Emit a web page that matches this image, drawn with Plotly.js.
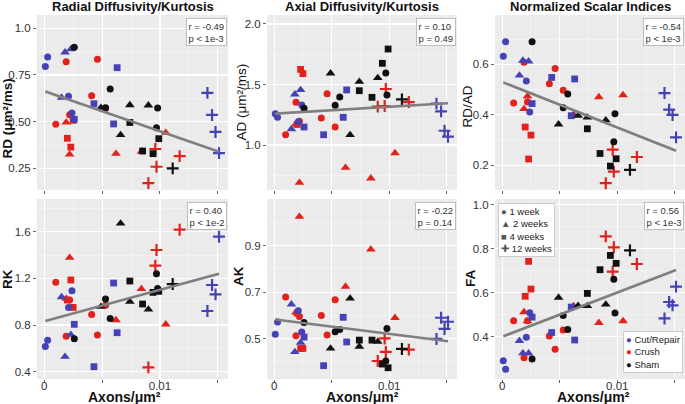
<!DOCTYPE html>
<html><head><meta charset="utf-8">
<script src="https://cdn.plot.ly/plotly-3.0.1.min.js"></script>
<style>html,body{margin:0;padding:0;background:#fff}#chart{width:685px;height:404px}</style>
</head><body><div id="chart"></div>
<script>
// ---------- DATA ----------
const timeLabels = ['1 week', '2 weeks', '4 weeks', '12 weeks'];
const groupNames = ['Cut/Repair', 'Crush', 'Sham'];

// Cut/Repair
const timeCut  = ['1 week','1 week','1 week','1 week','2 weeks','2 weeks','2 weeks','4 weeks','4 weeks','4 weeks','4 weeks','12 weeks','12 weeks','12 weeks','12 weeks'];
const axonsCut = [0.0001, 0.0003, 0.0021, 0.0024, 0.0015, 0.0018, 0.0023, 0.0026, 0.0043, 0.0060, 0.0063, 0.0141, 0.0145, 0.0148, 0.0151];
const rdCut    = [0.795, 0.846, 0.636, 0.546, 0.629, 0.871, 0.888, 0.513, 0.596, 0.488, 0.789, 0.654, 0.536, 0.445, 0.332];
const adCut    = [1.259, 1.229, 1.193, 1.331, 1.132, 1.419, 1.455, 1.149, 1.085, 1.229, 1.455, 1.342, 1.278, 1.118, 1.069];
const rdadCut  = [0.632, 0.690, 0.534, 0.411, 0.556, 0.615, 0.612, 0.444, 0.548, 0.396, 0.542, 0.486, 0.420, 0.399, 0.310];
const rkCut    = [0.617, 0.669, 0.951, 1.094, 1.040, 0.529, 0.717, 0.806, 0.443, 1.160, 0.734, 0.920, 1.143, 1.063, 1.557];
const akCut    = [0.519, 0.572, 0.620, 0.529, 0.648, 0.443, 0.483, 0.507, 0.384, 0.592, 0.486, 0.499, 0.590, 0.542, 0.573];
const faCut    = [0.290, 0.252, 0.397, 0.509, 0.381, 0.325, 0.324, 0.489, 0.419, 0.535, 0.385, 0.483, 0.558, 0.543, 0.628];

// Crush
const timeCrush  = ['1 week','1 week','1 week','1 week','1 week','1 week','2 weeks','2 weeks','2 weeks','2 weeks','2 weeks','4 weeks','4 weeks','4 weeks','12 weeks','12 weeks','12 weeks','12 weeks'];
const axonsCrush = [0.0010, 0.0019, 0.0022, 0.0041, 0.0046, 0.0053, 0.0019, 0.0022, 0.0062, 0.0084, 0.0105, 0.0020, 0.0023, 0.0025, 0.0090, 0.0096, 0.0097, 0.0117];
const rdCrush    = [0.486, 0.821, 0.537, 0.639, 0.834, 0.570, 0.496, 0.325, 0.329, 0.340, 0.441, 0.411, 0.364, 0.507, 0.171, 0.354, 0.259, 0.316];
const adCrush    = [1.085, 1.353, 1.196, 1.223, 1.424, 1.149, 1.173, 0.689, 0.813, 0.725, 0.934, 1.170, 1.625, 1.590, 1.317, 1.322, 1.463, 1.355];
const rdadCrush  = [0.446, 0.608, 0.450, 0.523, 0.584, 0.497, 0.423, 0.473, 0.401, 0.470, 0.478, 0.351, 0.224, 0.319, 0.128, 0.261, 0.174, 0.232];
const rkCrush    = [1.166, 0.703, 1.014, 0.891, 0.714, 0.969, 1.026, 1.377, 0.843, 1.109, 0.806, 1.014, 1.186, 0.951, 0.437, 1.309, 1.443, 1.617];
const akCrush    = [0.679, 0.513, 0.596, 0.600, 0.516, 0.668, 0.613, 1.025, 0.724, 0.884, 0.590, 0.610, 0.458, 0.458, 0.404, 0.501, 0.443, 0.453];
const faCrush    = [0.473, 0.304, 0.473, 0.403, 0.343, 0.430, 0.512, 0.471, 0.540, 0.463, 0.471, 0.584, 0.743, 0.617, 0.857, 0.696, 0.807, 0.731];

// Sham
const timeSham  = ['1 week','1 week','1 week','1 week','1 week','2 weeks','2 weeks','2 weeks','2 weeks','4 weeks','4 weeks','4 weeks','4 weeks','12 weeks'];
const axonsSham = [0.0026, 0.0053, 0.0057, 0.0097, 0.0098, 0.0049, 0.0066, 0.0074, 0.0090, 0.0074, 0.0085, 0.0094, 0.0099, 0.0111];
const rdSham    = [0.898, 0.575, 0.675, 0.468, 0.573, 0.575, 0.429, 0.589, 0.588, 0.496, 0.343, 0.329, 0.409, 0.250];
const adSham    = [1.303, 1.328, 1.397, 1.595, 1.413, 1.592, 1.083, 1.523, 1.554, 1.449, 1.394, 1.675, 1.793, 1.377];
const rdadSham  = [0.690, 0.428, 0.482, 0.293, 0.404, 0.362, 0.396, 0.389, 0.378, 0.344, 0.246, 0.196, 0.225, 0.181];
const rkSham    = [0.683, 1.023, 0.857, 1.240, 1.114, 0.957, 1.671, 1.000, 0.934, 1.177, 0.980, 1.080, 1.089, 1.151];
const akSham    = [0.570, 0.530, 0.540, 0.404, 0.544, 0.458, 0.673, 0.466, 0.487, 0.494, 0.494, 0.391, 0.375, 0.456];
const faSham    = [0.298, 0.497, 0.433, 0.661, 0.508, 0.578, 0.541, 0.540, 0.547, 0.597, 0.705, 0.770, 0.734, 0.793];

// panel texts
const panelTitles = ['Radial Diffusivity/Kurtosis', 'Axial Diffusivity/Kurtosis', 'Normalized Scalar Indices'];
const yTitles = ['RD (μm²/ms)', 'AD (μm²/ms)', 'RD/AD', 'RK', 'AK', 'FA'];
const statTexts = ['r = -0.49<br>p < 1e-3', 'r = 0.10<br>p = 0.49', 'r = -0.54<br>p < 1e-3',
                   'r = 0.40<br>p < 1e-2', 'r = -0.22<br>p = 0.14', 'r = 0.56<br>p < 1e-3'];
const xTitle = 'Axons/μm²';
const xTickVals = [0, 0.005, 0.01, 0.015];
const xTickText = ['0', '', '0.01', ''];
const yTickVals = [[0.25, 0.5, 0.75, 1.0], [1.0, 1.5, 2.0], [0.2, 0.4, 0.6],
                   [0.4, 0.8, 1.2, 1.6], [0.5, 0.7, 0.9], [0.4, 0.6, 0.8, 1.0]];
const yTickText = [['0.25', '0.50', '0.75', '1.0'], ['1.0', '1.5', '2.0'], ['0.2', '0.4', '0.6'],
                   ['0.4', '0.8', '1.2', '1.6'], ['0.5', '0.7', '0.9'], ['0.4', '0.6', '0.8', '1.0']];

// ---------- STYLE ----------
const FONT = 'Liberation Sans, Arial, sans-serif';
const colors = {'Cut/Repair': '#4343b5', 'Crush': '#e3211c', 'Sham': '#111111'};
const symbols = {'1 week': 'circle', '2 weeks': 'triangle-up', '4 weeks': 'square', '12 weeks': 'cross-thin-open'};
const sizes = {'1 week': 7, '2 weeks': 8.5, '4 weeks': 6.8, '12 weeks': 8.5};

const groups = [
  {name: 'Crush', x: axonsCrush, t: timeCrush, v: [rdCrush, adCrush, rdadCrush, rkCrush, akCrush, faCrush]},
  {name: 'Cut/Repair', x: axonsCut, t: timeCut, v: [rdCut, adCut, rdadCut, rkCut, akCut, faCut]},
  {name: 'Sham', x: axonsSham, t: timeSham, v: [rdSham, adSham, rdadSham, rkSham, akSham, faSham]}
];

const yRanges = [[0.134, 1.071], [0.628, 2.074], [0.1006, 0.796], [0.3375, 1.880], [0.3267, 1.1008], [0.2073, 1.027]];
const yMinorDtick = [0.125, 0.25, 0.1, 0.2, 0.1, 0.1];
const xDomains = [[0, 0.2948], [0.3549, 0.6481], [0.7068, 1]];
const yDomains = [[0.519, 1], [0, 0.4945]];

const traces = [];
const layout = {
  width: 685, height: 404,
  margin: {l: 37, r: 0, t: 15, b: 25},
  paper_bgcolor: '#fff', plot_bgcolor: '#ebebeb',
  showlegend: false,
  font: {family: FONT, color: '#333'},
  annotations: []
};

for (let p = 0; p < 6; p++) {
  const s = p === 0 ? '' : String(p + 1);
  const xa = 'x' + s, ya = 'y' + s;
  const row = p < 3 ? 0 : 1, col = p % 3;
  const allX = [], allY = [];
  groups.forEach(g => {
    timeLabels.forEach(tl => {
      const xs = [], ys = [];
      g.t.forEach((tt, i) => { if (tt === tl) { xs.push(g.x[i]); ys.push(g.v[p][i]); } });
      const isCross = tl === '12 weeks';
      traces.push({
        type: 'scatter', mode: 'markers', x: xs, y: ys, xaxis: xa, yaxis: ya,
        hoverinfo: 'skip', showlegend: false,
        marker: {symbol: symbols[tl], size: sizes[tl], color: colors[g.name],
                 line: {width: isCross ? 2.2 : 0, color: colors[g.name]}}
      });
    });
    g.x.forEach((xv, i) => { allX.push(xv); allY.push(g.v[p][i]); });
  });
  // least-squares line through all points of the panel
  const n = allX.length;
  const mx = allX.reduce((a, b) => a + b, 0) / n;
  const my = allY.reduce((a, b) => a + b, 0) / n;
  let sxy = 0, sxx = 0;
  for (let i = 0; i < n; i++) { sxy += (allX[i] - mx) * (allY[i] - my); sxx += (allX[i] - mx) ** 2; }
  const slope = sxy / sxx, icpt = my - slope * mx;
  const x0 = Math.min(...allX), x1 = Math.max(...allX);
  traces.push({type: 'scatter', mode: 'lines', x: [x0, x1], y: [icpt + slope * x0, icpt + slope * x1],
               xaxis: xa, yaxis: ya, hoverinfo: 'skip', showlegend: false,
               line: {color: '#7f7f7f', width: 2.6}});

  layout['xaxis' + s] = {
    domain: xDomains[col], anchor: ya, range: [-0.00062, 0.01588],
    tickmode: 'array', tickvals: xTickVals, ticktext: xTickText,
    showticklabels: row === 1, ticklabelstandoff: -7,
    ticks: 'outside', ticklen: 3, tickwidth: 1, tickcolor: '#666',
    tickfont: {size: 11.5, color: '#333'},
    showgrid: true, gridcolor: '#ffffff', gridwidth: 1.1,
    minor: {tickmode: 'linear', tick0: 0, dtick: 0.0025, showgrid: true, gridcolor: '#f7f7f7', gridwidth: 0.6, ticks: ''},
    zeroline: false, showline: false, fixedrange: true
  };
  layout['yaxis' + s] = {
    domain: yDomains[row], anchor: xa, range: yRanges[p],
    tickmode: 'array', tickvals: yTickVals[p], ticktext: yTickText[p],
    ticks: 'outside', ticklen: 3, tickwidth: 1, tickcolor: '#666',
    tickfont: {size: 11.5, color: '#333'},
    showgrid: true, gridcolor: '#ffffff', gridwidth: 1.1,
    minor: {tickmode: 'linear', tick0: 0, dtick: yMinorDtick[p], showgrid: true, gridcolor: '#f7f7f7', gridwidth: 0.6, ticks: ''},
    zeroline: false, showline: false, fixedrange: true
  };

  layout.annotations.push({
    xref: xa + ' domain', yref: ya + ' domain', x: 1, y: 1, xanchor: 'right', yanchor: 'top',
    xshift: -1, yshift: -3, text: statTexts[p], showarrow: false, align: 'left',
    font: {size: 9.5, color: '#333', family: FONT},
    bgcolor: '#ffffff', bordercolor: '#bdbdbd', borderwidth: 1, borderpad: 1.5
  });
}

// panel titles
panelTitles.forEach((t, c) => {
  const s = c === 0 ? '' : String(c + 1);
  layout.annotations.push({
    xref: 'x' + s + ' domain', yref: 'y' + s + ' domain', x: 0.5, y: 1, xanchor: 'center', yanchor: 'middle',
    yshift: 8.5, text: '<b>' + t + '</b>', showarrow: false, font: {size: 13, color: '#111', family: FONT}
  });
});

// y titles
const yTitleShift = [[-29, -16], [-25, 1], [-27, -4], [-30, 10], [-29, 13], [-25, 11]];
const yTitleBold = [true, false, false, true, true, true];
yTitles.forEach((t, p) => {
  const s = p === 0 ? '' : String(p + 1);
  layout.annotations.push({
    xref: 'x' + s + ' domain', yref: 'y' + s + ' domain', x: 0, y: 0.5, xanchor: 'center', yanchor: 'middle',
    xshift: yTitleShift[p][0], yshift: yTitleShift[p][1], textangle: -90,
    text: yTitleBold[p] ? '<b>' + t + '</b>' : t, showarrow: false,
    font: {size: 13.5, color: '#111', family: FONT}
  });
});

// x titles
const xTitleShift = [-8, 1, 3];
[4, 5, 6].forEach((k, c) => {
  layout.annotations.push({
    xref: 'x' + k + ' domain', yref: 'y' + k + ' domain', x: 0.5, y: 0, xanchor: 'center', yanchor: 'middle',
    xshift: xTitleShift[c], yshift: -18, text: '<b>' + xTitle + '</b>', showarrow: false,
    font: {size: 14, color: '#111', family: FONT}
  });
});

// legends (text boxes in FA panel)
const timeGlyph = {'1 week': '●', '2 weeks': '▲', '4 weeks': '■', '12 weeks': '✚'};
layout.annotations.push({
  xref: 'x6 domain', yref: 'y6 domain', x: 0, y: 1, xanchor: 'left', yanchor: 'top', xshift: 3, yshift: -4,
  text: timeLabels.map(t => '<span style="color:#555">' + timeGlyph[t] + '</span> ' + t).join('<br>'),
  showarrow: false, align: 'left', font: {size: 9.5, color: '#222', family: FONT},
  bgcolor: '#ffffff', bordercolor: '#cccccc', borderwidth: 1, borderpad: 2
});
layout.annotations.push({
  xref: 'x6 domain', yref: 'y6 domain', x: 1, y: 0, xanchor: 'right', yanchor: 'bottom', xshift: -2, yshift: 6,
  text: groupNames.map(g => '<span style="color:' + colors[g] + '">●</span> ' + g).join('<br>'),
  showarrow: false, align: 'left', font: {size: 9.5, color: '#222', family: FONT},
  bgcolor: '#ffffff', bordercolor: '#cccccc', borderwidth: 1, borderpad: 2
});

Plotly.newPlot('chart', traces, layout, {staticPlot: true, displayModeBar: false});
</script>
</body></html>
